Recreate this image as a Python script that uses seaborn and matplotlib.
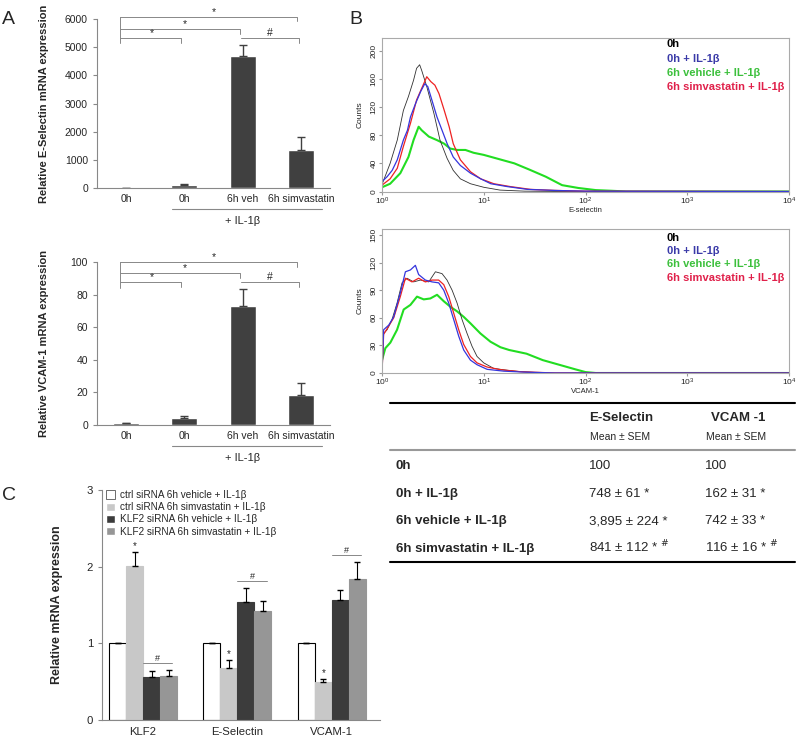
import numpy as np
import pandas as pd
import matplotlib.pyplot as plt
import seaborn as sns
from matplotlib.lines import Line2D
from matplotlib.ticker import NullLocator


sns.set_style('ticks')
plt.rcParams['font.family'] = ['Liberation Sans', 'DejaVu Sans']

# --- panel A: qPCR bars ---
conds_a = ['0h', '0h + IL-1β', '6h veh', '6h simvastatin']
ticks_a = ['0h', '0h', '6h veh', '6h simvastatin']
esel_mean = [10, 100, 4687, 1334]
esel_sem = [5, 55, 390, 484]
vcam_mean = [1.0, 4.2, 73.2, 18.4]
vcam_sem = [0.3, 1.6, 10.0, 7.6]

# --- panel B: flow histograms (log10 of fluorescence, counts) ---
e_0h_lx = [0.0, 0.003, 0.08, 0.15, 0.21, 0.26, 0.31, 0.34, 0.37, 0.39, 0.44, 0.51, 0.57, 0.64, 0.70, 0.77, 0.87, 1.0, 1.16, 1.4, 1.8, 4.0]
e_0h_ct = [60, 11, 40, 73, 115, 135, 158, 175, 180, 172, 149, 111, 73, 47, 30, 18, 11, 6, 2, 0.5, 0, 0]
e_il_lx = [0.0, 0.05, 0.10, 0.15, 0.21, 0.25, 0.28, 0.33, 0.38, 0.42, 0.45, 0.49, 0.54, 0.59, 0.64, 0.70, 0.77, 0.87, 0.97, 1.07, 1.23, 1.43, 1.7, 2.0, 4.0]
e_il_ct = [14, 21, 30, 45, 73, 87, 106, 125, 142, 153, 149, 130, 106, 87, 68, 49, 37, 26, 18, 11, 7, 3, 1.5, 0.5, 0]
e_veh_lx = [0.0, 0.08, 0.18, 0.26, 0.31, 0.36, 0.39, 0.46, 0.54, 0.61, 0.67, 0.74, 0.82, 0.90, 1.0, 1.1, 1.2, 1.3, 1.45, 1.61, 1.77, 1.93, 2.1, 2.26, 2.4, 4.0]
e_veh_ct = [6, 11, 26, 49, 73, 92, 87, 78, 73, 68, 61, 59, 59, 55, 52, 48, 44, 40, 31, 21, 9, 5, 2, 1, 0, 0]
e_sim_lx = [0.0, 0.08, 0.15, 0.21, 0.28, 0.34, 0.41, 0.44, 0.48, 0.52, 0.56, 0.61, 0.66, 0.70, 0.77, 0.87, 0.97, 1.10, 1.26, 1.46, 1.7, 2.0, 4.0]
e_sim_ct = [9, 18, 33, 64, 97, 130, 153, 163, 156, 151, 139, 116, 92, 68, 45, 28, 18, 11, 7, 3, 1.5, 0.5, 0]

v_0h_lx = [0.0, 0.016, 0.05, 0.098, 0.148, 0.197, 0.246, 0.311, 0.377, 0.459, 0.525, 0.59, 0.639, 0.689, 0.738, 0.787, 0.836, 0.885, 0.934, 1.0, 1.098, 1.23, 1.36, 1.6, 4.0]
v_0h_ct = [0, 43, 47, 58, 76, 98, 103, 99, 101, 99, 110, 108, 101, 90, 76, 58, 43, 29, 18, 11, 5, 3, 1.5, 0, 0]
v_il_lx = [0.0, 0.016, 0.066, 0.115, 0.18, 0.23, 0.279, 0.328, 0.36, 0.426, 0.492, 0.557, 0.607, 0.656, 0.705, 0.754, 0.803, 0.869, 0.934, 1.033, 1.197, 1.393, 1.7, 4.0]
v_il_ct = [0, 47, 52, 61, 87, 110, 112, 117, 107, 101, 99, 98, 90, 76, 58, 40, 25, 14, 9, 4, 2, 1, 0, 0]
v_veh_lx = [0.0, 0.033, 0.082, 0.148, 0.213, 0.279, 0.344, 0.41, 0.475, 0.541, 0.607, 0.672, 0.738, 0.803, 0.869, 0.967, 1.066, 1.164, 1.25, 1.42, 1.58, 1.74, 1.9, 2.0, 2.1, 4.0]
v_veh_ct = [14, 27, 33, 47, 69, 74, 83, 80, 81, 85, 78, 72, 67, 61, 54, 43, 34, 28, 25, 21, 14, 9, 4, 1, 0, 0]
v_sim_lx = [0.0, 0.016, 0.066, 0.115, 0.18, 0.23, 0.295, 0.36, 0.426, 0.492, 0.557, 0.607, 0.656, 0.705, 0.754, 0.803, 0.869, 0.934, 1.033, 1.164, 1.36, 1.7, 4.0]
v_sim_ct = [0, 42, 51, 60, 83, 103, 99, 103, 99, 101, 101, 96, 83, 65, 47, 31, 18, 11, 6.5, 3.6, 1.4, 0, 0]

hist_labels = ['0h', '0h + IL-1β', '6h vehicle + IL-1β', '6h simvastatin + IL-1β']

# --- table ---
tab_rows = ['0h', '0h + IL-1β', '6h vehicle + IL-1β', '6h simvastatin + IL-1β']
tab_esel = ['100', '748 ± 61', '3,895 ± 224', '841 ± 112']
tab_vcam = ['100', '162 ± 31', '742 ± 33', '116 ± 16']
tab_mark = ['', ' *', ' *', ' * $^{\\#}$']

# --- panel C: siRNA bars ---
genes = ['KLF2', 'E-Selectin', 'VCAM-1']
groups_c = ['ctrl siRNA 6h vehicle + IL-1β', 'ctrl siRNA 6h simvastatin + IL-1β',
            'KLF2 siRNA 6h vehicle + IL-1β', 'KLF2 siRNA 6h simvastatin + IL-1β']
ctrl_veh = [1.0, 1.0, 1.0]
ctrl_veh_sem = [0.005, 0.005, 0.005]
ctrl_sim = [2.01, 0.68, 0.50]
ctrl_sim_sem = [0.18, 0.10, 0.04]
klf_veh = [0.565, 1.54, 1.565]
klf_veh_sem = [0.08, 0.18, 0.135]
klf_sim = [0.578, 1.42, 1.835]
klf_sim_sem = [0.07, 0.13, 0.225]

W, H = 800, 742
fig = plt.figure(figsize=(8, 7.42), dpi=100)


def px_axes(x0, y0, x1, y1):
    return fig.add_axes([x0 / W, 1 - y1 / H, (x1 - x0) / W, (y1 - y0) / H])


def ftext(x, y, s, **kw):
    fig.text(x / W, 1 - y / H, s, **kw)


def bracket(ax, x0, x1, y, drop, lw=0.7):
    ax.plot([x0, x1, x1], [y, y, y - drop], color='#888888', lw=lw, clip_on=False)


def bar_panel(ax, means, sems, ymax, step, ylabel, levels, drop, left_low, px_h):
    df = pd.DataFrame({'cond': conds_a, 'val': means})
    sns.barplot(data=df, x='cond', y='val', order=conds_a, color='#404040',
                saturation=1, width=0.45, errorbar=None, ax=ax)
    ax.errorbar(range(4), means, yerr=[np.zeros(4), sems], fmt='none',
                ecolor='#404040', elinewidth=1, capsize=3)
    ax.set_xlim(-0.5, 3.5)
    ax.set_ylim(0, ymax)
    ax.set_yticks(np.arange(0, ymax + 1, step))
    ax.set_xticks(range(4))
    ax.set_xticklabels(ticks_a, fontsize=7.5)
    ax.tick_params(axis='x', length=0, pad=4)
    ax.tick_params(axis='y', labelsize=7.5, length=3, color='#888888')
    ax.set_xlabel('')
    ax.set_ylabel(ylabel, fontsize=8, fontweight='bold')
    ax.yaxis.set_label_coords(-0.205, 0.5)
    sns.despine(ax=ax)
    for s in ['left', 'bottom']:
        ax.spines[s].set_color('#888888')
        ax.spines[s].set_linewidth(0.8)
    # significance brackets
    ax.plot([-0.1, -0.1], [levels[0], left_low], color='#888888', lw=0.7, clip_on=False)
    bracket(ax, -0.1, 2.93, levels[0], drop)
    bracket(ax, -0.1, 1.95, levels[1], drop)
    bracket(ax, -0.1, 0.95, levels[2], drop)
    bracket(ax, 1.98, 2.97, levels[2], drop)
    for xs, lv, t in [(1.5, levels[0], '*'), (1.0, levels[1], '*'), (0.45, levels[2], '*'), (2.47, levels[2], '#')]:
        ax.text(xs, lv, t, ha='center', va='bottom', fontsize=7.5, clip_on=False)
    # + IL-1b grouping line
    tr = ax.get_xaxis_transform()
    ax.plot([0.79, 3.36], [-21 / px_h, -21 / px_h], color='#888888', lw=0.8,
            transform=tr, clip_on=False)
    ax.text(2.0, -33 / px_h, '+ IL-1β', ha='center', va='center', fontsize=8, transform=tr)


ax_a1 = px_axes(97, 19, 330, 188)
bar_panel(ax_a1, esel_mean, esel_sem, 6000, 1000, 'Relative E-Selectin mRNA expression',
          [6083, 5643, 5313], 170, 5135, 169)
ax_a2 = px_axes(97, 262, 330, 425)
bar_panel(ax_a2, vcam_mean, vcam_sem, 100, 20, 'Relative VCAM-1 mRNA expression',
          [100, 93.4, 87.5], 3, 84.2, 163)


def hist_panel(ax, curves, ymax, yticks, xlabel, rows):
    colors = ['#303030', '#3535DD', '#22DD22', '#EE2222']
    widths = [0.6, 0.9, 1.5, 0.9]
    for k in [2, 0, 3, 1]:
        lx, ct = curves[k]
        sns.lineplot(x=10 ** np.array(lx), y=ct, ax=ax, color=colors[k], lw=widths[k],
                     estimator=None, sort=False)
    ax.set_xscale('log')
    ax.set_xlim(1, 1e4)
    ax.set_ylim(0, ymax)
    ax.set_xticks([1, 10, 100, 1000, 10000])
    ax.xaxis.set_minor_locator(NullLocator())
    ax.set_yticks(yticks)
    ax.tick_params(labelsize=6, length=2, pad=1, color='#999999')
    for lab in ax.get_yticklabels():
        lab.set_rotation(90)
        lab.set_va('center')
    ax.set_xlabel(xlabel, fontsize=5.5, labelpad=0)
    ax.set_ylabel('Counts', fontsize=6)
    ax.yaxis.set_label_coords(-0.044, 0.5)
    for s in ax.spines.values():
        s.set_color('#AAAAAA')
        s.set_linewidth(0.8)
    tcol = ['black', '#3A3AA8', '#3CC03C', '#E0204A']
    for lab, c, yy in zip(hist_labels, tcol, rows):
        ax.text(0.70, yy, lab, color=c, fontsize=8, fontweight='bold',
                transform=ax.transAxes, va='center')


ax_b1 = px_axes(382, 38, 789, 191.5)
hist_panel(ax_b1, [(e_0h_lx, e_0h_ct), (e_il_lx, e_il_ct), (e_veh_lx, e_veh_ct), (e_sim_lx, e_sim_ct)],
           218, range(0, 201, 40), 'E-selectin', [0.96, 0.862, 0.774, 0.684])
ax_b2 = px_axes(382, 229, 789, 373)
hist_panel(ax_b2, [(v_0h_lx, v_0h_ct), (v_il_lx, v_il_ct), (v_veh_lx, v_veh_ct), (v_sim_lx, v_sim_ct)],
           156.5, range(0, 151, 30), 'VCAM-1', [0.94, 0.845, 0.755, 0.66])

# table under panel B
fig.add_artist(Line2D([390 / W, 795 / W], [1 - 403 / H] * 2, color='black', lw=1.5))
fig.add_artist(Line2D([390 / W, 795 / W], [1 - 450 / H] * 2, color='#999999', lw=1.5))
fig.add_artist(Line2D([390 / W, 795 / W], [1 - 562 / H] * 2, color='black', lw=1.5))
ftext(589, 418, 'E-Selectin', fontsize=9.5, fontweight='bold', va='center')
ftext(711, 418, 'VCAM -1', fontsize=9.5, fontweight='bold', va='center')
ftext(590, 437, 'Mean ± SEM', fontsize=7.5, va='center')
ftext(706, 437, 'Mean ± SEM', fontsize=7.5, va='center')
for yy, r, e, v, m in zip([464, 492, 519, 547], tab_rows, tab_esel, tab_vcam, tab_mark):
    ftext(396, yy + 5, r, fontsize=9.5, fontweight='bold', va='baseline')
    ftext(589, yy + 5, e + m, fontsize=9.5, va='baseline')
    ftext(705, yy + 5, v + m, fontsize=9.5, va='baseline')

# panel C
ax_c = px_axes(102, 490, 380, 720)
means_c = [ctrl_veh, ctrl_sim, klf_veh, klf_sim]
sems_c = [ctrl_veh_sem, ctrl_sim_sem, klf_veh_sem, klf_sim_sem]
df_c = pd.DataFrame([(g, grp, m) for grp, vals in zip(groups_c, means_c) for g, m in zip(genes, vals)],
                    columns=['gene', 'group', 'val'])
pal = ['white', '#C8C8C8', '#3C3C3C', '#969696']
sns.barplot(data=df_c, x='gene', y='val', hue='group', order=genes, hue_order=groups_c,
            palette=pal, saturation=1, width=0.72, errorbar=None, ax=ax_c)
for cont, col, sem, mean in zip(ax_c.containers, pal, sems_c, means_c):
    xs = [p.get_x() + p.get_width() / 2 for p in cont]
    for p in cont:
        p.set_edgecolor('black' if col == 'white' else col)
        p.set_linewidth(0.8)
    ax_c.errorbar(xs, mean, yerr=[np.zeros(3), sem], fmt='none', ecolor='black',
                  elinewidth=0.8, capsize=2.5)
    if col == '#C8C8C8':
        for x, m, s in zip(xs, mean, sem):
            ax_c.text(x, m + s + 0.01, '*', ha='center', va='bottom', fontsize=7)
for i, lv in enumerate([0.74, 1.81, 2.15]):
    ax_c.plot([i + 0.0, i + 0.31], [lv, lv], color='#888888', lw=0.7)
    ax_c.text(i + 0.155, lv, '#', ha='center', va='bottom', fontsize=6.5)
ax_c.set_xlim(-0.435, 2.51)
ax_c.set_ylim(0, 3)
ax_c.set_yticks([0, 1, 2, 3])
ax_c.tick_params(axis='x', length=0, labelsize=8.2, pad=5)
ax_c.tick_params(axis='y', length=3, labelsize=8.2, color='#888888')
ax_c.set_xlabel('')
ax_c.set_ylabel('Relative mRNA expression', fontsize=9, fontweight='bold')
ax_c.yaxis.set_label_coords(-0.14, 0.5)
sns.despine(ax=ax_c)
for s in ['left', 'bottom']:
    ax_c.spines[s].set_color('#888888')
    ax_c.spines[s].set_linewidth(0.8)
h, l = ax_c.get_legend_handles_labels()
leg = ax_c.legend(h, l, loc='upper left', bbox_to_anchor=(0.0, 1.017), frameon=False, fontsize=7.2,
                  handlelength=0.9, handleheight=0.9, labelspacing=0.22, handletextpad=0.5,
                  borderaxespad=0)
leg.legend_handles[0].set_edgecolor('#555555')
leg.legend_handles[0].set_linewidth(0.6)

# panel letters
ftext(2, 19, 'A', fontsize=14, va='center')
ftext(349, 19, 'B', fontsize=14, va='center')
ftext(2, 496, 'C', fontsize=14, va='center')

fig.savefig('out.png', dpi=100)
